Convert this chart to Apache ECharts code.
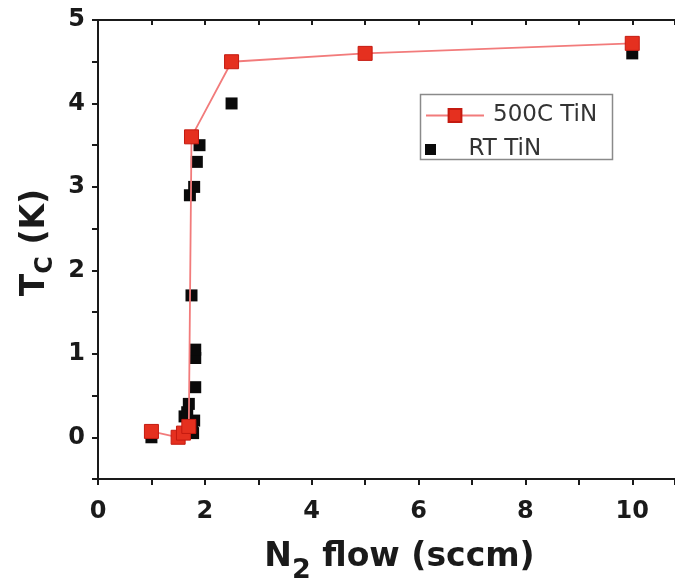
<!DOCTYPE html>
<html>
<head>
<meta charset="utf-8">
<script src="https://cdn.jsdelivr.net/npm/echarts@6/dist/echarts.min.js"></script>
<style>
html,body{margin:0;padding:0;background:#fff;}
#chart{width:675px;height:584px;}
</style>
</head>
<body>
<div id="chart"></div>
<script>
// ---- data ----
const seriesNames = ['500C TiN', 'RT TiN'];
const hotX = [1.0, 1.5, 1.6, 1.7, 1.75, 2.5, 5, 10];
const hotY = [0.07, 0.0, 0.05, 0.13, 3.6, 4.5, 4.6, 4.72];
const rtX = [1.0, 1.62, 1.67, 1.7, 1.73, 1.76, 1.78, 1.8, 1.82, 1.82, 1.82, 1.75, 1.72, 1.8, 1.85, 1.9, 2.5, 10];
const rtY = [0.0, 0.25, 0.3, 0.4, 0.15, 0.1, 0.05, 0.2, 0.6, 0.95, 1.05, 1.7, 2.9, 3.0, 3.3, 3.5, 4.0, 4.6];
const xTickLabels = [0, 2, 4, 6, 8, 10];
const yTickLabels = [0, 1, 2, 3, 4, 5];

const pairs = (xs, ys) => xs.map((x, i) => [x, ys[i]]);
const FONT = '"DejaVu Sans", sans-serif';
const AXC = '#1a1a1a';

const chart = echarts.init(document.getElementById('chart'), null, {renderer: 'canvas'});
const option = {
  animation: false,
  backgroundColor: '#fff',
  textStyle: {fontFamily: FONT},
  grid: {left: 98, right: 0, top: 20, bottom: 105, containLabel: false, outerBoundsMode: 'none'},
  xAxis: [{
    type: 'value', min: 0, max: 10.8, interval: 1, position: 'bottom',
    axisLine: {onZero: false, lineStyle: {color: AXC, width: 2}},
    axisTick: {inside: false, length: 6, lineStyle: {color: AXC, width: 2}},
    splitLine: {show: false},
    axisLabel: {
      margin: 21, fontSize: 24, fontWeight: 'bold', color: AXC, fontFamily: FONT,
      formatter: v => xTickLabels.includes(v) ? String(v) : ''
    },
    name: '{a|N}{b|2}{a| flow (sccm)}',
    nameLocation: 'middle', nameGap: 52,
    nameTextStyle: {
      padding: [0, 0, 0, 26],
      rich: {
        a: {fontSize: 33, fontWeight: 'bold', color: AXC, fontFamily: FONT},
        b: {fontSize: 27, fontWeight: 'bold', color: AXC, fontFamily: FONT, padding: [26, 0, 0, 0]}
      }
    }
  }, {
    type: 'value', min: 0, max: 10.8, interval: 1, position: 'top',
    axisLine: {onZero: false, lineStyle: {color: AXC, width: 2}},
    axisTick: {inside: true, length: 5, lineStyle: {color: AXC, width: 2}},
    splitLine: {show: false},
    axisLabel: {show: false}
  }],
  yAxis: {
    type: 'value', min: -0.5, max: 5, interval: 0.5,
    axisLine: {onZero: false, lineStyle: {color: AXC, width: 2}},
    axisTick: {inside: false, length: 6, lineStyle: {color: AXC, width: 2}},
    splitLine: {show: false},
    axisLabel: {
      margin: 13, fontSize: 24, fontWeight: 'bold', color: AXC, fontFamily: FONT,
      formatter: v => yTickLabels.includes(v) ? String(v) : ''
    },
    name: '{a|T}{b|C}{a| (K)}',
    nameLocation: 'middle', nameGap: 38, nameRotate: 90,
    nameTextStyle: {
      padding: [0, 0, 0, 14],
      rich: {
        a: {fontSize: 33, fontWeight: 'bold', color: AXC, fontFamily: FONT},
        b: {fontSize: 24, fontWeight: 'bold', color: AXC, fontFamily: FONT, padding: [20, 0, 0, 0]}
      }
    }
  },
  legend: [{
    data: [seriesNames[0]],
    left: 425, top: 104, padding: 0,
    itemWidth: 58, itemHeight: 16,
    textStyle: {fontSize: 23, color: '#333', fontFamily: FONT, padding: [0, 0, 0, 4]}
  }, {
    data: [{name: seriesNames[1], icon: 'path://M0,0h10v10h-10z'}],
    left: 425, top: 138, padding: 0,
    itemWidth: 58, itemHeight: 11,
    textStyle: {fontSize: 23, color: '#333', fontFamily: FONT, padding: [0, 0, 0, 4]}
  }],
  graphic: [{
    type: 'rect', left: 418, top: 92, z: 100,
    shape: {width: 192, height: 65},
    style: {fill: 'none', stroke: '#8a8a8a', lineWidth: 1.5}
  }],
  series: [{
    name: seriesNames[1], type: 'scatter', data: pairs(rtX, rtY),
    symbol: 'rect', symbolSize: 12, z: 2,
    itemStyle: {color: '#0a0a0a', opacity: 1}
  }, {
    name: seriesNames[0], type: 'line', data: pairs(hotX, hotY),
    symbol: 'rect', symbolSize: 14, showAllSymbol: true, z: 3,
    lineStyle: {color: '#f27b7b', width: 1.8},
    itemStyle: {color: '#e5301f', borderColor: '#c41a10', borderWidth: 1}
  }]
};
chart.setOption(option);
</script>
</body>
</html>
